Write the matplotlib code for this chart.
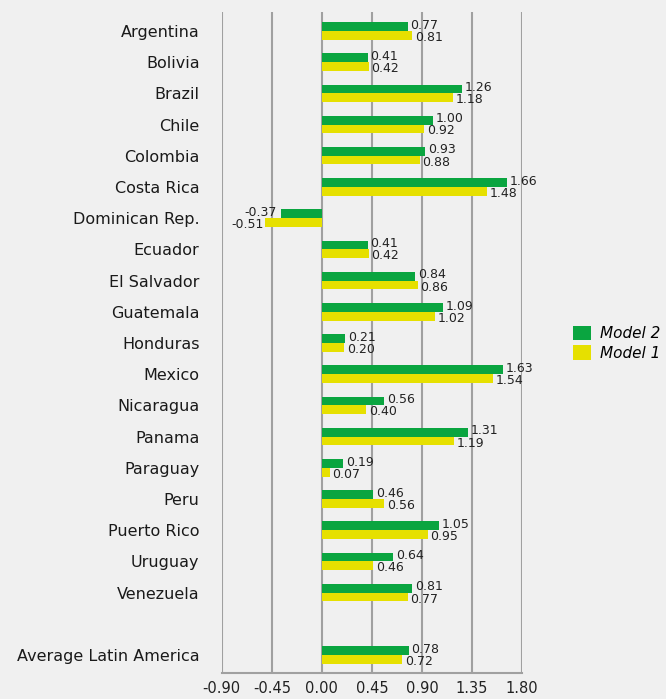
import numpy as np
from matplotlib import pyplot as plt

bg = "#f0f0f0"
green = "#0aa540"
yellow = "#e6e000"

plt.rcParams['font.family'] = 'DejaVu Sans'

countries = ["Argentina", "Bolivia", "Brazil", "Chile", "Colombia", "Costa Rica",
             "Dominican Rep.", "Ecuador", "El Salvador", "Guatemala", "Honduras",
             "Mexico", "Nicaragua", "Panama", "Paraguay", "Peru", "Puerto Rico",
             "Uruguay", "Venezuela", "Average Latin America"]
model2 = [0.77, 0.41, 1.26, 1.00, 0.93, 1.66, -0.37, 0.41, 0.84, 1.09, 0.21,
          1.63, 0.56, 1.31, 0.19, 0.46, 1.05, 0.64, 0.81, 0.78]
model1 = [0.81, 0.42, 1.18, 0.92, 0.88, 1.48, -0.51, 0.42, 0.86, 1.02, 0.20,
          1.54, 0.40, 1.19, 0.07, 0.56, 0.95, 0.46, 0.77, 0.72]
xticks = [-0.90, -0.45, 0.00, 0.45, 0.90, 1.35, 1.80]

# gap of one row before the average
pos = np.array(list(range(19)) + [20])
h = 0.28

fig = plt.figure(figsize=(6.66, 6.99), dpi=100, facecolor=bg)
ax = fig.add_axes([0.333, 0.037, 0.451, 0.946], facecolor=bg)

ax.barh(pos - h/2, model2, height=h, color=green, label="Model 2", zorder=3)
ax.barh(pos + h/2, model1, height=h, color=yellow, label="Model 1", zorder=3)

for y, v in zip(pos, model2):
    ha = 'left' if v >= 0 else 'right'
    dx = 2 if v >= 0 else -3
    ax.annotate(f"{v:.2f}", (v, y - h/2), xytext=(dx, 1), textcoords='offset points',
                ha=ha, va='center', fontsize=9, color='#222222', zorder=4)
for y, v in zip(pos, model1):
    ha = 'left' if v >= 0 else 'right'
    dx = 2 if v >= 0 else -1
    ax.annotate(f"{v:.2f}", (v, y + h/2), xytext=(dx, -1.5), textcoords='offset points',
                ha=ha, va='center', fontsize=9, color='#222222', zorder=4)

ax.set_xlim(-0.90, 1.80)
ax.set_ylim(20.58, -0.61)
ax.set_xticks(xticks)
ax.set_xticklabels([f"{t:.2f}" for t in xticks], fontsize=10.5, color='#222222')
ax.set_yticks(pos)
ax.set_yticklabels(countries, fontsize=11.5, color='#1a1a1a')
ax.tick_params(length=0)
ax.tick_params(axis='y', pad=16)
ax.tick_params(axis='x', pad=6)

ax.grid(axis='x', color='#a0a0a0', linewidth=1.5, zorder=1)
for s in ['top', 'left', 'right']:
    ax.spines[s].set_visible(False)
ax.spines['bottom'].set_color('#a0a0a0')
ax.spines['bottom'].set_linewidth(1.5)

ax.legend(loc='center left', bbox_to_anchor=(1.17, 0.499),
          bbox_transform=ax.transAxes, frameon=False,
          borderaxespad=0, borderpad=0,
          handlelength=1.15, handleheight=1.1, handletextpad=0.6,
          labelspacing=0.26, prop={'style': 'italic', 'size': 11})

fig.savefig("out.png", dpi=100, facecolor=bg)
